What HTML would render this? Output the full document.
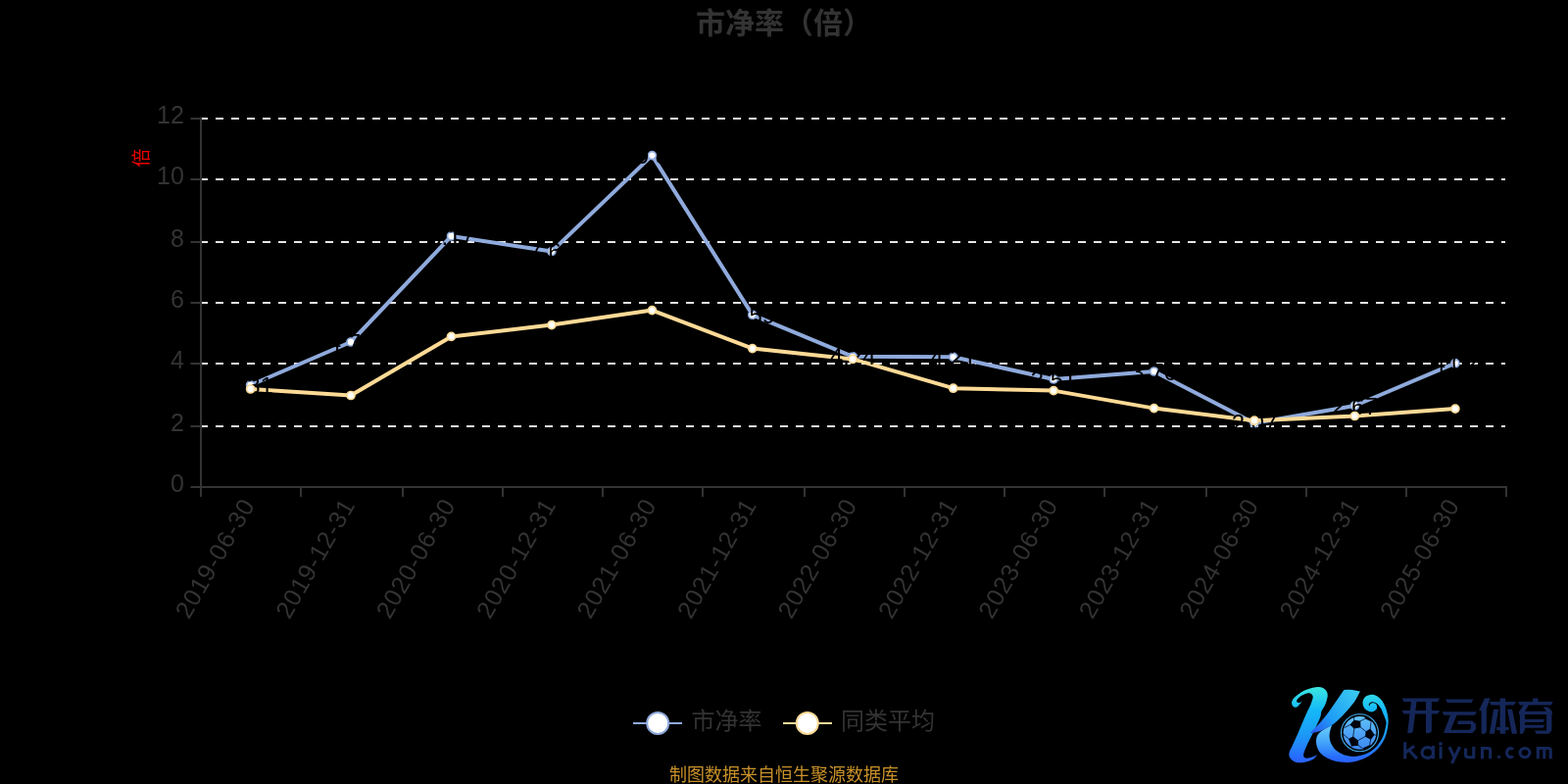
<!DOCTYPE html>
<html lang="zh"><head><meta charset="utf-8"><title>市净率（倍）</title>
<style>html,body{margin:0;padding:0;background:#000;overflow:hidden}body{width:1600px;height:800px;font-family:"Liberation Sans",sans-serif}svg{display:block;will-change:transform}</style>
</head><body>
<svg width="1600" height="800" viewBox="0 0 1600 800" font-family="'Liberation Sans', sans-serif">
<rect width="1600" height="800" fill="#000"/>
<text x="800" y="34" font-size="30" font-weight="bold" fill="#333" text-anchor="middle" font-family="'Liberation Sans', 'Noto Sans CJK SC', sans-serif">市净率（倍）</text>
<g stroke="#e6e6e6" stroke-width="2" stroke-dasharray="8 8" fill="none">
<path d="M204 121H1536"/>
<path d="M204 183H1536"/>
<path d="M204 247H1536"/>
<path d="M204 309H1536"/>
<path d="M204 371H1536"/>
<path d="M204 435H1536"/>
</g>
<g stroke="#333" stroke-width="2" fill="none">
<path d="M205 119.4V507"/>
<path d="M194.4 497H1538"/>
<path d="M194.4 121H205"/>
<path d="M194.4 183H205"/>
<path d="M194.4 247H205"/>
<path d="M194.4 309H205"/>
<path d="M194.4 371H205"/>
<path d="M194.4 435H205"/>
<path d="M307 497V507"/>
<path d="M411 497V507"/>
<path d="M513 497V507"/>
<path d="M615 497V507"/>
<path d="M717 497V507"/>
<path d="M821 497V507"/>
<path d="M923 497V507"/>
<path d="M1025 497V507"/>
<path d="M1127 497V507"/>
<path d="M1231 497V507"/>
<path d="M1333 497V507"/>
<path d="M1435 497V507"/>
<path d="M1537 497V507"/>
</g>
<g fill="#333" font-size="25" text-anchor="end">
<text x="187.8" y="125.6">12</text>
<text x="187.8" y="187.6">10</text>
<text x="187.8" y="251.6">8</text>
<text x="187.8" y="313.6">6</text>
<text x="187.8" y="375.6">4</text>
<text x="187.8" y="439.6">2</text>
<text x="187.8" y="501.6">0</text>
</g>
<g fill="#333" font-size="25" text-anchor="end" letter-spacing="0.8">
<text transform="translate(253.4 510.7) rotate(-60)" y="8.5">2019-06-30</text>
<text transform="translate(355.8 510.7) rotate(-60)" y="8.5">2019-12-31</text>
<text transform="translate(458.3 510.7) rotate(-60)" y="8.5">2020-06-30</text>
<text transform="translate(560.7 510.7) rotate(-60)" y="8.5">2020-12-31</text>
<text transform="translate(663.2 510.7) rotate(-60)" y="8.5">2021-06-30</text>
<text transform="translate(765.6 510.7) rotate(-60)" y="8.5">2021-12-31</text>
<text transform="translate(868.0 510.7) rotate(-60)" y="8.5">2022-06-30</text>
<text transform="translate(970.5 510.7) rotate(-60)" y="8.5">2022-12-31</text>
<text transform="translate(1072.9 510.7) rotate(-60)" y="8.5">2023-06-30</text>
<text transform="translate(1175.4 510.7) rotate(-60)" y="8.5">2023-12-31</text>
<text transform="translate(1277.8 510.7) rotate(-60)" y="8.5">2024-06-30</text>
<text transform="translate(1380.2 510.7) rotate(-60)" y="8.5">2024-12-31</text>
<text transform="translate(1482.7 510.7) rotate(-60)" y="8.5">2025-06-30</text>
</g>
<g transform="translate(150.5 161) rotate(-90)"><text x="0" y="0" font-size="19" fill="#ee0000" text-anchor="middle" font-family="'Liberation Sans', 'Noto Sans CJK SC', sans-serif">倍</text></g>
<path d="M255.6 393.0L358.0 349.0L460.5 241.0L562.9 256.6L665.4 158.6L767.8 321.3L870.2 363.8L972.7 364.3L1075.1 387.0L1177.6 379.0L1280.0 431.8L1382.4 414.0L1484.9 370.7" fill="none" stroke="#8FAADC" stroke-width="4" stroke-linejoin="bevel"/>
<path d="M255.6 397.0L358.0 403.5L460.5 343.4L562.9 331.6L665.4 316.6L767.8 355.6L870.2 366.4L972.7 396.2L1075.1 398.6L1177.6 416.6L1280.0 429.2L1382.4 424.5L1484.9 417.1" fill="none" stroke="#FDDA96" stroke-width="4" stroke-linejoin="bevel"/>
<g fill="#fff" stroke="#8FAADC" stroke-width="1.7">
<circle cx="255.6" cy="393.0" r="4"/>
<circle cx="358.0" cy="349.0" r="4"/>
<circle cx="460.5" cy="241.0" r="4"/>
<circle cx="562.9" cy="256.6" r="4"/>
<circle cx="665.4" cy="158.6" r="4"/>
<circle cx="767.8" cy="321.3" r="4"/>
<circle cx="870.2" cy="363.8" r="4"/>
<circle cx="972.7" cy="364.3" r="4"/>
<circle cx="1075.1" cy="387.0" r="4"/>
<circle cx="1177.6" cy="379.0" r="4"/>
<circle cx="1280.0" cy="431.8" r="4"/>
<circle cx="1382.4" cy="414.0" r="4"/>
<circle cx="1484.9" cy="370.7" r="4"/>
</g>
<g fill="#000" font-size="24" text-anchor="middle">
<text x="255.6" y="401.5">3.31</text>
<text x="358.0" y="357.5">4.72</text>
<text x="460.5" y="249.5">8.17</text>
<text x="562.9" y="265.1">7.66</text>
<text x="665.4" y="167.1">10.82</text>
<text x="767.8" y="329.8">5.59</text>
<text x="870.2" y="372.3">4.24</text>
<text x="972.7" y="372.8">4.21</text>
<text x="1075.1" y="395.5">3.51</text>
<text x="1177.6" y="387.5">3.76</text>
<text x="1280.0" y="440.3">2.07</text>
<text x="1382.4" y="422.5">2.67</text>
<text x="1484.9" y="379.2">4.02</text>
</g>
<g fill="#fff" stroke="#FDDA96" stroke-width="1.7">
<circle cx="255.6" cy="397.0" r="4"/>
<circle cx="358.0" cy="403.5" r="4"/>
<circle cx="460.5" cy="343.4" r="4"/>
<circle cx="562.9" cy="331.6" r="4"/>
<circle cx="665.4" cy="316.6" r="4"/>
<circle cx="767.8" cy="355.6" r="4"/>
<circle cx="870.2" cy="366.4" r="4"/>
<circle cx="972.7" cy="396.2" r="4"/>
<circle cx="1075.1" cy="398.6" r="4"/>
<circle cx="1177.6" cy="416.6" r="4"/>
<circle cx="1280.0" cy="429.2" r="4"/>
<circle cx="1382.4" cy="424.5" r="4"/>
<circle cx="1484.9" cy="417.1" r="4"/>
</g>
<path d="M646 737.9H696" stroke="#8FAADC" stroke-width="2"/><circle cx="671.2" cy="737.9" r="11" fill="#fff" stroke="#8FAADC" stroke-width="2"/>
<text x="705.5" y="744.4" font-size="24" fill="#333" font-family="'Liberation Sans', 'Noto Sans CJK SC', sans-serif">市净率</text>
<path d="M799 737.9H849" stroke="#FDDA96" stroke-width="2"/><circle cx="823.8" cy="737.9" r="11" fill="#fff" stroke="#FDDA96" stroke-width="2"/>
<text x="858" y="744.4" font-size="24" fill="#333" font-family="'Liberation Sans', 'Noto Sans CJK SC', sans-serif">同类平均</text>
<text x="683" y="796.5" font-size="18" fill="#C8912A" font-family="'Liberation Sans', 'Noto Sans CJK SC', sans-serif">制图数据来自恒生聚源数据库</text>
<defs><linearGradient id="kg" gradientUnits="userSpaceOnUse" x1="0" y1="700" x2="0" y2="778"><stop offset="0" stop-color="#3de9df"/><stop offset=".32" stop-color="#14b8f8"/><stop offset=".58" stop-color="#1aa0f6"/><stop offset=".78" stop-color="#2285f8"/><stop offset="1" stop-color="#2a60ff"/></linearGradient><linearGradient id="ka" gradientUnits="userSpaceOnUse" x1="1386" y1="704" x2="1338" y2="748"><stop offset="0" stop-color="#3ccdf2"/><stop offset=".6" stop-color="#1f9ff5"/><stop offset="1" stop-color="#2a55f0"/></linearGradient><linearGradient id="kb" gradientUnits="userSpaceOnUse" x1="0" y1="730" x2="0" y2="766"><stop offset="0" stop-color="#62c2fa"/><stop offset="1" stop-color="#3a86f2"/></linearGradient><linearGradient id="kh" x1="0" y1="0" x2="0" y2="1"><stop offset="0" stop-color="#9fe0ff" stop-opacity=".7"/><stop offset="1" stop-color="#9fe0ff" stop-opacity="0"/></linearGradient></defs>
<g aria-label="开云体育 kaiyun.com">
<path fill="url(#kg)" d="M1328.8 715.3C1328.0 716.4 1327.4 717.5 1326.4 718.5C1325.5 719.5 1324.3 720.9 1323.3 721.4C1322.3 721.9 1321.3 721.9 1320.5 721.5C1319.7 721.1 1318.8 720.1 1318.5 719.2C1318.1 718.2 1317.8 717.1 1318.2 716.0C1318.5 714.8 1319.3 713.5 1320.5 712.1C1321.7 710.8 1323.6 709.2 1325.6 707.9C1327.6 706.6 1330.1 705.1 1332.4 704.1C1334.7 703.0 1337.4 702.2 1339.6 701.7C1341.9 701.2 1344.1 700.9 1346.0 701.1C1347.9 701.3 1349.8 701.9 1351.1 702.8C1352.4 703.6 1353.5 705.0 1354.1 706.2C1354.7 707.4 1354.7 708.7 1354.7 710.0C1354.7 711.4 1354.3 712.6 1353.9 714.3C1353.4 715.9 1352.8 717.9 1351.9 719.8C1351.1 721.7 1349.4 723.7 1348.5 725.7C1347.7 727.8 1348.3 729.0 1347.1 732.1C1345.9 735.2 1343.6 740.2 1341.5 744.5C1339.4 748.8 1336.5 754.2 1334.7 758.0C1333.0 761.7 1331.7 764.7 1330.9 767.0C1330.2 769.3 1329.9 770.6 1330.2 771.7C1330.6 772.8 1331.7 773.6 1333.1 773.7C1334.5 773.9 1336.8 773.2 1338.7 772.6C1340.6 772.0 1342.5 770.9 1344.4 770.0C1342.8 771.7 1341.8 773.8 1339.5 775.1C1337.1 776.4 1333.1 777.6 1330.2 778.0C1327.4 778.5 1324.6 778.4 1322.4 777.8C1320.2 777.2 1318.1 775.8 1317.0 774.3C1315.8 772.8 1315.1 771.0 1315.4 768.7C1315.7 766.3 1317.5 763.7 1319.0 760.2C1320.5 756.8 1322.7 752.4 1324.6 747.9C1326.6 743.4 1329.2 736.9 1330.8 733.2C1332.4 729.6 1333.1 728.0 1334.1 725.7C1335.1 723.5 1336.2 721.8 1337.1 719.8C1337.9 717.8 1338.8 715.4 1339.2 713.8C1339.6 712.3 1339.8 711.4 1339.6 710.4C1339.5 709.5 1339.0 708.9 1338.3 708.3C1337.7 707.8 1336.9 707.3 1335.8 707.3C1334.7 707.2 1333.3 707.4 1332.0 707.9C1330.6 708.4 1329.0 709.2 1327.7 710.0C1326.4 710.9 1325.1 712.1 1324.3 713.0C1323.6 713.8 1323.2 714.5 1323.1 715.1C1323.1 715.8 1323.3 716.5 1323.9 716.8C1324.5 717.1 1325.6 717.3 1326.4 717.0C1327.3 716.8 1328.0 715.9 1328.8 715.3Z"/>
<path fill="url(#kg)" d="M1359.1 740.0C1357.3 741.0 1355.4 741.9 1353.5 743.0C1351.6 744.1 1349.1 745.4 1347.5 746.8C1345.9 748.1 1344.9 749.3 1344.1 750.9C1343.4 752.5 1343.0 754.6 1343.0 756.5C1343.0 758.4 1343.5 760.6 1344.1 762.5C1344.8 764.4 1345.4 766.1 1346.8 767.8C1348.1 769.4 1350.0 770.9 1352.0 772.3C1354.0 773.6 1356.3 774.8 1358.8 775.6C1361.3 776.5 1364.1 777.1 1367.0 777.5C1369.9 777.9 1373.0 778.1 1376.0 777.9C1379.0 777.7 1382.3 777.1 1385.0 776.4C1387.8 775.7 1390.0 774.9 1392.5 773.8C1395.0 772.6 1397.8 770.9 1400.0 769.3C1402.3 767.6 1404.3 765.9 1406.0 764.0C1407.8 762.1 1409.2 760.1 1410.5 758.0C1411.8 755.9 1413.0 753.6 1413.9 751.3C1414.8 748.9 1415.3 746.3 1415.8 743.8C1416.2 741.3 1416.7 738.9 1416.7 736.3C1416.6 733.6 1416.2 730.5 1415.6 728.0C1415.1 725.5 1414.3 723.1 1413.4 721.0C1412.6 718.9 1411.5 717.0 1410.4 715.3C1409.2 713.7 1407.8 712.2 1406.4 711.2C1405.1 710.1 1403.9 709.6 1402.5 709.2C1401.1 708.8 1399.5 708.8 1398.1 709.0C1396.7 709.2 1395.3 709.6 1394.2 710.3C1393.1 711.0 1392.2 711.9 1391.6 713.1C1390.9 714.3 1390.5 716.1 1390.5 717.5C1390.5 718.9 1390.9 720.3 1391.6 721.4C1392.2 722.6 1393.1 723.7 1394.2 724.5C1395.3 725.3 1396.9 726.0 1398.1 726.3C1399.4 726.5 1400.6 726.4 1401.6 726.0C1402.6 725.7 1403.7 724.8 1404.3 724.1C1404.8 723.3 1405.2 722.3 1405.2 721.4C1405.2 720.6 1404.9 719.5 1404.5 718.8C1404.0 718.1 1403.2 717.7 1402.5 717.4C1401.8 717.2 1400.8 717.1 1400.1 717.3C1399.4 717.5 1398.6 718.0 1398.1 718.6C1397.7 719.2 1397.6 720.1 1397.3 720.8C1397.1 720.3 1396.7 719.8 1396.7 719.3C1396.7 718.7 1397.1 718.0 1397.5 717.5C1397.9 717.0 1398.5 716.7 1399.2 716.5C1399.9 716.3 1401.0 716.3 1401.8 716.5C1402.7 716.7 1403.6 717.0 1404.5 717.6C1405.3 718.2 1406.3 718.9 1407.1 719.9C1407.9 720.9 1408.8 722.3 1409.5 723.6C1410.2 725.0 1410.4 725.9 1411.3 728.0C1412.1 730.1 1414.0 733.6 1414.4 736.3C1414.8 738.9 1414.0 741.3 1413.5 743.8C1413.0 746.3 1412.3 748.9 1411.3 751.3C1410.3 753.6 1409.0 755.9 1407.5 758.0C1406.0 760.1 1404.3 762.3 1402.3 764.0C1400.3 765.8 1397.9 767.3 1395.5 768.5C1393.1 769.7 1390.5 770.6 1388.0 771.1C1385.5 771.7 1383.0 771.9 1380.5 771.9C1378.0 771.8 1375.4 771.4 1373.0 770.8C1370.6 770.1 1368.3 769.0 1366.3 767.8C1364.3 766.5 1362.4 765.0 1361.0 763.3C1359.6 761.5 1358.4 759.3 1357.6 757.3C1356.9 755.3 1356.6 753.3 1356.5 751.3C1356.4 749.3 1356.8 747.1 1357.3 745.3C1357.7 743.4 1358.5 741.8 1359.1 740.0Z"/>
<clipPath id="sc"><path d="M1359.1 740.0C1357.3 741.0 1355.4 741.9 1353.5 743.0C1351.6 744.1 1349.1 745.4 1347.5 746.8C1345.9 748.1 1344.9 749.3 1344.1 750.9C1343.4 752.5 1343.0 754.6 1343.0 756.5C1343.0 758.4 1343.5 760.6 1344.1 762.5C1344.8 764.4 1345.4 766.1 1346.8 767.8C1348.1 769.4 1350.0 770.9 1352.0 772.3C1354.0 773.6 1356.3 774.8 1358.8 775.6C1361.3 776.5 1364.1 777.1 1367.0 777.5C1369.9 777.9 1373.0 778.1 1376.0 777.9C1379.0 777.7 1382.3 777.1 1385.0 776.4C1387.8 775.7 1390.0 774.9 1392.5 773.8C1395.0 772.6 1397.8 770.9 1400.0 769.3C1402.3 767.6 1404.3 765.9 1406.0 764.0C1407.8 762.1 1409.2 760.1 1410.5 758.0C1411.8 755.9 1413.0 753.6 1413.9 751.3C1414.8 748.9 1415.3 746.3 1415.8 743.8C1416.2 741.3 1416.7 738.9 1416.7 736.3C1416.6 733.6 1416.2 730.5 1415.6 728.0C1415.1 725.5 1414.3 723.1 1413.4 721.0C1412.6 718.9 1411.5 717.0 1410.4 715.3C1409.2 713.7 1407.8 712.2 1406.4 711.2C1405.1 710.1 1403.9 709.6 1402.5 709.2C1401.1 708.8 1399.5 708.8 1398.1 709.0C1396.7 709.2 1395.3 709.6 1394.2 710.3C1393.1 711.0 1392.2 711.9 1391.6 713.1C1390.9 714.3 1390.5 716.1 1390.5 717.5C1390.5 718.9 1390.9 720.3 1391.6 721.4C1392.2 722.6 1393.1 723.7 1394.2 724.5C1395.3 725.3 1396.9 726.0 1398.1 726.3C1399.4 726.5 1400.6 726.4 1401.6 726.0C1402.6 725.7 1403.7 724.8 1404.3 724.1C1404.8 723.3 1405.2 722.3 1405.2 721.4C1405.2 720.6 1404.9 719.5 1404.5 718.8C1404.0 718.1 1403.2 717.7 1402.5 717.4C1401.8 717.2 1400.8 717.1 1400.1 717.3C1399.4 717.5 1398.6 718.0 1398.1 718.6C1397.7 719.2 1397.6 720.1 1397.3 720.8C1397.1 720.3 1396.7 719.8 1396.7 719.3C1396.7 718.7 1397.1 718.0 1397.5 717.5C1397.9 717.0 1398.5 716.7 1399.2 716.5C1399.9 716.3 1401.0 716.3 1401.8 716.5C1402.7 716.7 1403.6 717.0 1404.5 717.6C1405.3 718.2 1406.3 718.9 1407.1 719.9C1407.9 720.9 1408.8 722.3 1409.5 723.6C1410.2 725.0 1410.4 725.9 1411.3 728.0C1412.1 730.1 1414.0 733.6 1414.4 736.3C1414.8 738.9 1414.0 741.3 1413.5 743.8C1413.0 746.3 1412.3 748.9 1411.3 751.3C1410.3 753.6 1409.0 755.9 1407.5 758.0C1406.0 760.1 1404.3 762.3 1402.3 764.0C1400.3 765.8 1397.9 767.3 1395.5 768.5C1393.1 769.7 1390.5 770.6 1388.0 771.1C1385.5 771.7 1383.0 771.9 1380.5 771.9C1378.0 771.8 1375.4 771.4 1373.0 770.8C1370.6 770.1 1368.3 769.0 1366.3 767.8C1364.3 766.5 1362.4 765.0 1361.0 763.3C1359.6 761.5 1358.4 759.3 1357.6 757.3C1356.9 755.3 1356.6 753.3 1356.5 751.3C1356.4 749.3 1356.8 747.1 1357.3 745.3C1357.7 743.4 1358.5 741.8 1359.1 740.0Z"/></clipPath>
<rect clip-path="url(#sc)" x="1338" y="736" width="32" height="36" fill="url(#kh)"/>
<path fill="url(#ka)" d="M1336.8 748.3C1337.7 747.3 1338.2 746.6 1339.5 745.3C1340.7 744.0 1341.9 743.1 1344.3 740.3C1346.8 737.6 1351.2 732.6 1354.2 728.7C1357.2 724.9 1359.5 721.2 1362.1 717.5C1364.7 713.7 1368.3 708.5 1369.8 706.2C1371.4 704.0 1371.0 704.7 1371.5 704.0C1373.7 703.9 1375.4 703.6 1378.1 703.8C1380.9 704.1 1384.6 705.0 1387.9 705.6C1386.1 708.8 1385.2 711.5 1382.6 715.2C1380.1 718.8 1376.1 723.7 1372.5 727.6C1368.9 731.4 1365.0 735.6 1361.2 738.5C1357.5 741.3 1352.9 743.4 1350.0 744.8C1347.1 746.2 1346.0 746.4 1343.7 747.0C1341.5 747.6 1339.1 747.9 1336.8 748.3Z"/>
<circle cx="1387.5" cy="747.8" r="19" fill="none" stroke="#42b0f5" stroke-width="1.1"/>
<circle cx="1387.5" cy="747.8" r="16.9" fill="url(#kb)"/>
<clipPath id="bc"><circle cx="1387.5" cy="747.8" r="17.4"/></clipPath>
<path clip-path="url(#bc)" fill="none" stroke="#04122e" stroke-width=".8" d="M1381.9 735.1L1381.2 731.2M1378.0 739.5L1371.7 742.5M1381.9 743.0L1380.7 752.0M1388.1 741.9L1394.0 746.7M1387.8 736.0L1393.0 733.4M1398.2 744.1L1399.1 736.2M1402.1 749.7L1406.3 750.8M1398.7 754.2L1397.6 760.2M1393.4 751.4L1385.5 755.7M1376.5 754.2L1372.0 750.3M1379.3 761.0L1377.8 763.8M1385.8 760.4L1390.4 763.6"/>
<path clip-path="url(#bc)" fill="#01040c" d="M1377.5 739.6L1381.7 734.7L1388.2 735.7L1388.5 742.2L1381.7 743.4ZM1393.6 746.4L1398.3 743.6L1402.6 749.8L1398.9 754.8L1393.0 751.7ZM1376.0 754.0L1380.7 751.5L1385.9 755.6L1386.2 760.8L1379.1 761.4ZM1393.0 733.4L1392.6 730.9L1395.4 730.3L1401.6 735.7L1399.1 736.2ZM1390.4 763.6L1397.6 760.2L1401.0 761.0L1394.2 766.1ZM1372.0 750.3L1369.5 750.9L1369.8 747.5L1371.3 748.9Z"/>
</g>
<g aria-label="开云体育"><path fill="#152759" d="M1430.6 712.5L1469.1 712.5L1467.2 715.9L1432.5 715.9ZM1430.6 725.1L1469.1 725.1L1467.2 728.6L1432.5 728.6ZM1440.0 715.6L1445.6 715.6L1441.8 746.2L1440.3 748.1L1436.2 748.1ZM1455.0 715.6L1460.9 715.6L1460.9 745.9L1459.1 748.1L1455.0 748.1ZM1475.0 713.4L1503.4 713.4L1501.6 716.9L1476.9 716.9ZM1471.6 726.2L1506.9 726.2L1505.0 729.7L1473.4 729.7ZM1480.0 729.4L1486.6 729.4L1480.3 744.7L1499.4 744.7L1500.9 743.1L1500.9 739.1L1487.5 739.1L1487.5 735.6L1502.2 735.6L1505.9 738.8L1505.9 744.4L1502.2 748.1L1473.1 748.1ZM1515.0 712.5L1520.6 712.5L1516.9 723.1L1516.9 746.9L1514.7 748.8L1511.6 748.8L1511.6 725.0L1509.1 725.0ZM1519.7 716.1L1546.9 716.1L1545.0 719.5L1521.6 719.5ZM1530.6 712.5L1536.2 712.5L1536.2 748.8L1530.6 748.8ZM1524.1 723.8L1529.1 723.8L1524.9 748.8L1519.9 748.8ZM1538.1 723.8L1543.1 723.8L1548.1 748.8L1542.8 748.8ZM1527.2 741.9L1539.7 741.9L1539.7 745.0L1527.2 745.0ZM1564.1 712.5L1569.4 712.5L1569.4 716.4L1564.1 716.4ZM1549.1 716.1L1584.7 716.1L1582.8 719.5L1550.9 719.5ZM1554.7 719.2L1560.0 719.2L1555.9 725.9L1550.3 725.9ZM1574.7 721.6L1579.7 721.6L1583.9 725.9L1578.2 725.9ZM1550.0 725.8L1583.9 725.8L1583.9 729.1L1550.0 729.1ZM1550.9 728.8L1555.9 728.8L1555.9 745.0L1553.8 748.8L1550.9 748.8ZM1578.1 728.8L1583.4 728.8L1583.4 745.6L1580.3 748.8L1567.5 748.8L1565.9 745.6L1578.1 745.6ZM1555.6 733.9L1576.2 733.9L1574.7 736.9L1555.6 736.9ZM1555.6 739.7L1576.2 739.7L1574.7 742.8L1555.6 742.8Z"/></g><g aria-label="kaiyun.com"><path fill="none" stroke="#152759" stroke-width="3.1" d="M1433.72 757.31L1433.72 774.19M1434.28 767.72L1443.11 761.25M1438.39 766.03L1445.92 774.07M1462.52 761.08L1462.52 774.19M1470.11 762.09L1470.11 774.19M1478.83 762.09L1483.84 772.39M1489.57 762.09L1481.42 778.97M1495.48 763.50L1495.48 769.69Q1495.48 772.78 1498.69 772.78L1503.75 772.78M1503.75 762.09L1503.75 774.19M1512.49 774.19L1512.49 763.50L1518.56 763.50Q1520.64 763.50 1520.64 765.47L1520.64 774.19M1569.30 774.19L1569.30 763.50L1579.87 763.50Q1582.24 763.50 1582.24 765.75L1582.24 774.19M1575.77 763.50L1575.77 774.19"/><ellipse cx="1456.78" cy="768.00" rx="5.74" ry="5.34" fill="none" stroke="#152759" stroke-width="3.1"/><ellipse cx="1555.97" cy="768.11" rx="4.95" ry="4.61" fill="none" stroke="#152759" stroke-width="3.1"/><path d="M1543.90 764.68A3.82 4.61 0 1 0 1543.90 771.54" fill="none" stroke="#152759" stroke-width="3.1"/><circle cx="1470.00" cy="759.00" r="1.95" fill="#152759"/><circle cx="1529.53" cy="772.33" r="1.7" fill="#152759"/></g>
</svg>
</body></html>
